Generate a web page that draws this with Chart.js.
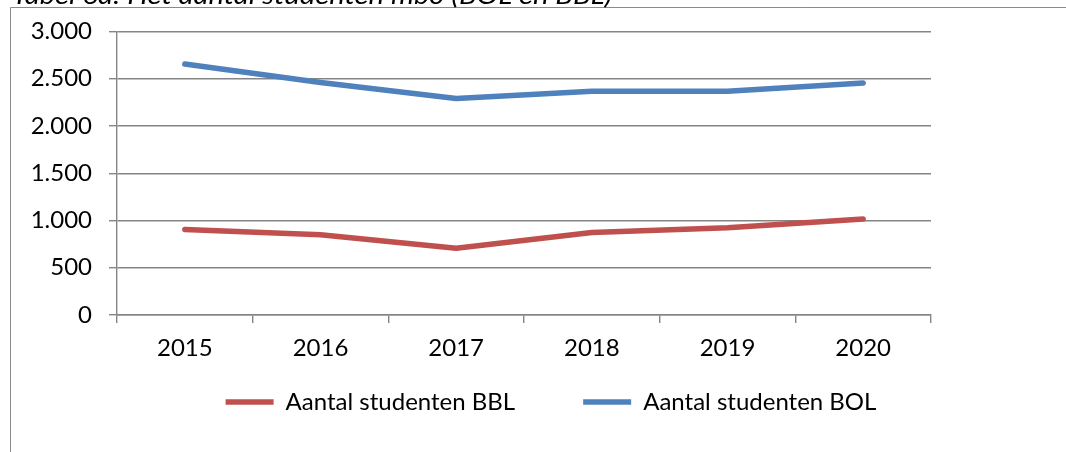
<!DOCTYPE html>
<html><head><meta charset="utf-8">
<script src="https://cdn.jsdelivr.net/npm/chart.js@4/dist/chart.umd.min.js"></script>
<style>html,body{margin:0;padding:0;background:#fff;}canvas{display:block;}</style>
</head><body>
<canvas id="c" width="1066" height="452"></canvas>
<script>
const titleText = 'Tabel 6a: Het aantal studenten mbo (BOL en BBL)';
const years = ['2015', '2016', '2017', '2018', '2019', '2020'];
const seriesNames = ['Aantal studenten BBL', 'Aantal studenten BOL'];
const bblValues = [905, 850, 707, 872, 923, 1015];
const bolValues = [2655, 2460, 2290, 2368, 2368, 2455];
const yTickValues = [0, 500, 1000, 1500, 2000, 2500, 3000];
const yTickLabels = ['0', '500', '1.000', '1.500', '2.000', '2.500', '3.000'];

const GRID = '#858585';
const FONT = 'Lato';

const framePlugin = {
  id: 'frame',
  beforeDraw(chart) {
    const ctx = chart.ctx;
    ctx.save();
    ctx.fillStyle = '#fff';
    ctx.fillRect(0, 0, chart.width, chart.height);
    ctx.strokeStyle = '#8a8a8a';
    ctx.lineWidth = 1;
    ctx.beginPath();
    ctx.moveTo(10.5, chart.height);
    ctx.lineTo(10.5, 7.5);
    ctx.lineTo(chart.width, 7.5);
    ctx.stroke();
    ctx.font = 'italic 25px ' + FONT;
    ctx.fillStyle = '#000';
    ctx.textBaseline = 'alphabetic';
    const w = ctx.measureText(titleText).width;
    ctx.translate(12, 4);
    ctx.scale(600 / w, 1);
    ctx.fillText(titleText, 0, 0);
    ctx.restore();
  }
};

Chart.defaults.font.family = FONT;
Chart.defaults.color = '#000';

new Chart(document.getElementById('c'), {
  type: 'line',
  data: {
    labels: years,
    datasets: [
      {
        label: seriesNames[0],
        data: bblValues,
        borderColor: '#C0504D',
        backgroundColor: '#C0504D',
        borderWidth: 5.5,
        borderCapStyle: 'round',
        borderJoinStyle: 'round',
        pointRadius: 0,
        tension: 0
      },
      {
        label: seriesNames[1],
        data: bolValues,
        borderColor: '#4F81BD',
        backgroundColor: '#4F81BD',
        borderWidth: 5.5,
        borderCapStyle: 'round',
        borderJoinStyle: 'round',
        pointRadius: 0,
        tension: 0
      }
    ]
  },
  options: {
    responsive: false,
    animation: false,
    devicePixelRatio: 1,
    layout: { padding: { left: 30, right: -6, top: 31, bottom: 28 } },
    plugins: {
      title: { display: false },
      tooltip: { enabled: false },
      legend: {
        position: 'bottom',
        labels: {
          usePointStyle: true,
          pointStyle: 'line',
          pointStyleWidth: 48,
          padding: 68,
          font: { size: 24, family: FONT },
          color: '#000'
        }
      }
    },
    scales: {
      x: {
        type: 'category',
        offset: true,
        grid: {
          display: true,
          offset: true,
          drawOnChartArea: false,
          drawTicks: true,
          tickLength: 8,
          color: GRID,
          lineWidth: 1.4
        },
        border: { display: true, color: GRID, width: 1.4 },
        ticks: { font: { size: 24, family: FONT }, color: '#000', mirror: true, padding: -48, maxRotation: 0, autoSkip: false },
        afterFit(s) { s.height = 7; }
      },
      y: {
        type: 'linear',
        position: 'left',
        min: 0,
        max: 3000,
        grid: { color: GRID, lineWidth: 1.4, tickLength: 8, drawTicks: true },
        border: { display: true, color: GRID, width: 1.4 },
        ticks: {
          stepSize: 500,
          padding: 17,
          font: { size: 24, family: FONT },
          color: '#000',
          callback(v) { const i = yTickValues.indexOf(v); return i >= 0 ? yTickLabels[i] : ''; }
        },
        afterFit(s) { s.width = 87; }
      },
      yR: {
        type: 'linear',
        position: 'right',
        display: true,
        grid: { display: false },
        border: { display: false },
        ticks: { display: false },
        afterFit(s) { s.width = 141; }
      }
    }
  },
  plugins: [framePlugin]
});
</script>
</body></html>
